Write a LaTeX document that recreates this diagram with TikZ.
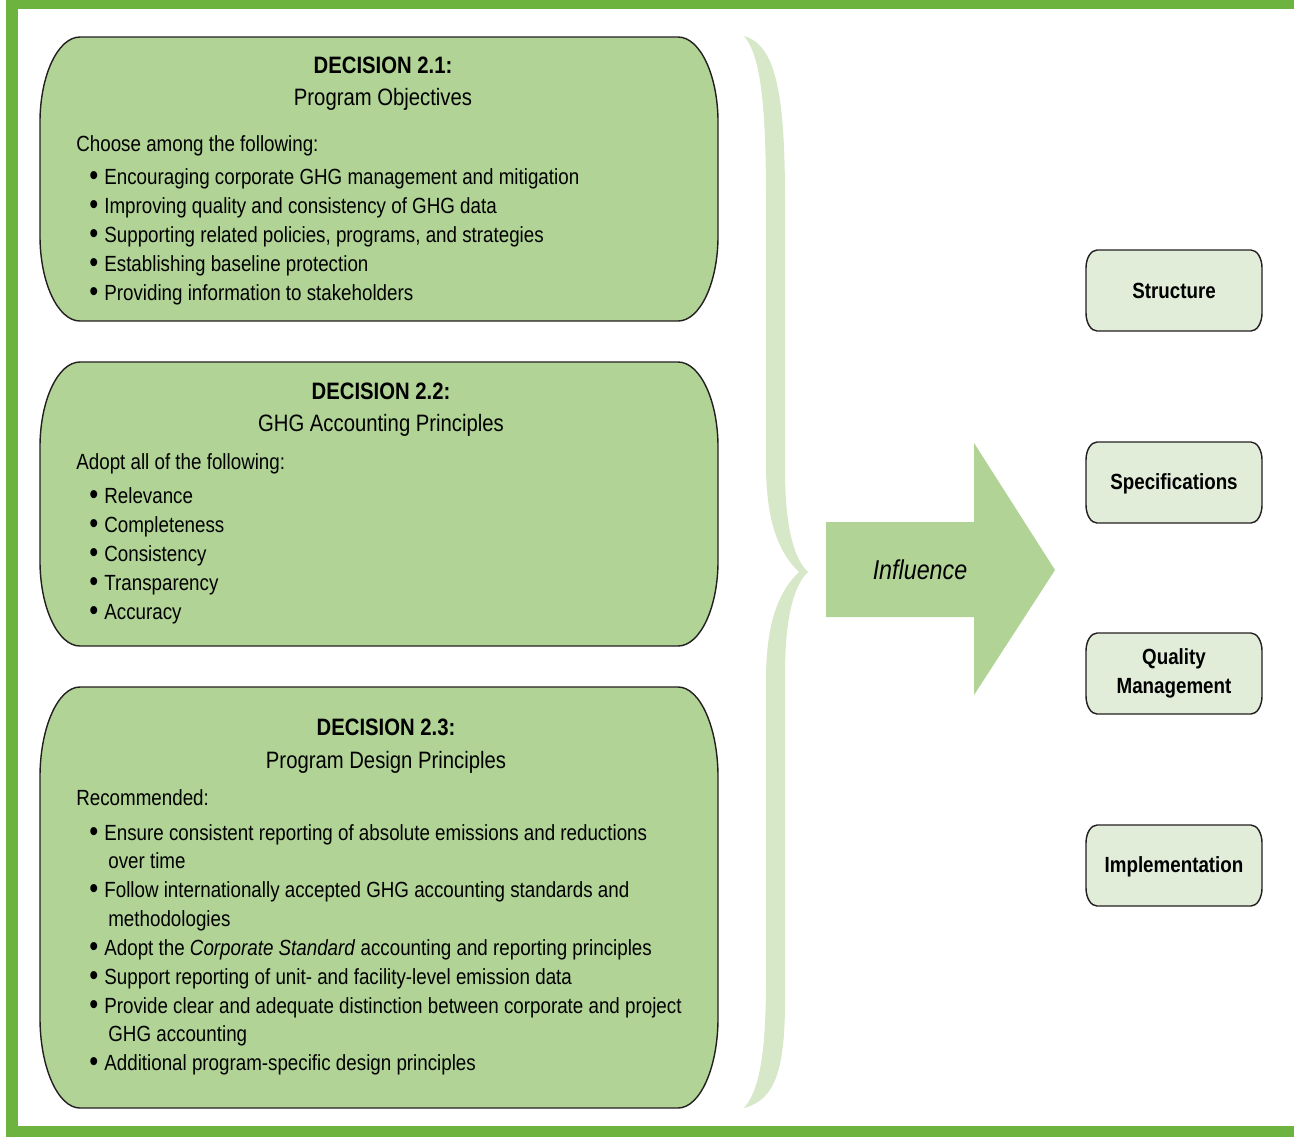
\documentclass[tikz,border=0pt]{standalone}
\usepackage{fontspec}
\setmainfont{Liberation Sans}[FakeStretch=0.855]
\definecolor{frame-green}{HTML}{6DB33F}
\definecolor{box-green}{HTML}{B1D396}
\definecolor{brace-green}{HTML}{D6E8C8}
\definecolor{pale-green}{HTML}{E2EDD9}
\definecolor{ink}{HTML}{231F20}

% box with oval corners: style, x0, y0, x1, y1, rx, ry
\newcommand{\softbox}[7]{%
  \draw[#1] ({#2+#6},#3) -- ({#4-#6},#3)
    .. controls ({#4-0.45*#6},#3) and (#4,{#3+0.45*#7}) .. (#4,{#3+#7})
    -- (#4,{#5-#7})
    .. controls (#4,{#5-0.45*#7}) and ({#4-0.45*#6},#5) .. ({#4-#6},#5)
    -- ({#2+#6},#5)
    .. controls ({#2+0.45*#6},#5) and (#2,{#5-0.45*#7}) .. (#2,{#5-#7})
    -- (#2,{#3+#7})
    .. controls (#2,{#3+0.45*#7}) and ({#2+0.45*#6},#3) .. ({#2+#6},#3) -- cycle;}
\newcommand{\bigdot}{\raisebox{-0.9pt}{\fontsize{17}{17}\selectfont\textbullet}}

\tikzset{
  decision/.style={draw=ink, line width=0.8pt, fill=box-green},
  aspect/.style={draw=ink, line width=0.8pt, fill=pale-green},
  dechead/.style={anchor=base, inner sep=0pt, font=\fontsize{13.5}{16}\selectfont\bfseries},
  decsub/.style={anchor=base, inner sep=0pt, font=\fontsize{13.5}{16}\selectfont},
  lead/.style={anchor=base west, inner sep=0pt, font=\fontsize{12.5}{15}\selectfont},
  bul/.style={lead, execute at begin node={\llap{\bigdot\hspace{3.5pt}}}},
  asplabel/.style={align=center, inner sep=0pt, font=\fontsize{12.5}{16.5}\selectfont\bfseries},
}

\begin{document}
\begin{tikzpicture}[x=0.02cm, y=-0.02cm]
    \useasboundingbox (0,0) rectangle (1294,1137);
    % ---- frame
    \fill[frame-green] (6,0) rectangle (18,1137);
    \fill[frame-green] (6,0) rectangle (1294,9);
    \fill[frame-green] (6,1126) rectangle (1294,1137);
    % ---- decision boxes
    \softbox{decision}{40}{37}{718}{321}{40}{85}
    \softbox{decision}{40}{362}{718}{646}{40}{85}
    \softbox{decision}{40}{687}{718}{1108}{40}{90}
    % ---- Decision 2.1
    \node[dechead] (d1-head) at (383,73) {DECISION 2.1:};
    \node[decsub]  (d1-sub)  at (383,105) {Program Objectives};
    \node[lead] (d1-lead) at (76,151) {Choose among the following:};
    \node[bul] (d1-a) at (104,184) {Encouraging corporate GHG management and mitigation};
    \node[bul] (d1-b) at (104,213) {Improving quality and consistency of GHG data};
    \node[bul] (d1-c) at (104,242) {Supporting related policies, programs, and strategies};
    \node[bul] (d1-d) at (104,271) {Establishing baseline protection};
    \node[bul] (d1-e) at (104,300) {Providing information to stakeholders};
    % ---- Decision 2.2
    \node[dechead] (d2-head) at (381,399) {DECISION 2.2:};
    \node[decsub]  (d2-sub)  at (381,431) {GHG Accounting Principles};
    \node[lead] (d2-lead) at (76,469) {Adopt all of the following:};
    \node[bul] (d2-a) at (104,503) {Relevance};
    \node[bul] (d2-b) at (104,532) {Completeness};
    \node[bul] (d2-c) at (104,561) {Consistency};
    \node[bul] (d2-d) at (104,590) {Transparency};
    \node[bul] (d2-e) at (104,619) {Accuracy};
    % ---- Decision 2.3
    \node[dechead] (d3-head) at (386,735) {DECISION 2.3:};
    \node[decsub]  (d3-sub)  at (386,768) {Program Design Principles};
    \node[lead] (d3-lead) at (76,805) {Recommended:};
    \node[bul]  (d3-a)  at (104,840) {Ensure consistent reporting of absolute emissions and reductions};
    \node[lead] (d3-a2) at (108,868) {over time};
    \node[bul]  (d3-b)  at (104,897) {Follow internationally accepted GHG accounting standards and};
    \node[lead] (d3-b2) at (108,926) {methodologies};
    \node[bul]  (d3-c)  at (104,955) {Adopt the \textit{Corporate Standard} accounting and reporting principles};
    \node[bul]  (d3-d)  at (104,984) {Support reporting of unit- and facility-level emission data};
    \node[bul]  (d3-e)  at (104,1013) {Provide clear and adequate distinction between corporate and project};
    \node[lead] (d3-e2) at (108,1041) {GHG accounting};
    \node[bul]  (d3-f)  at (104,1070) {Additional program-specific design principles};
    % ---- brace
    \fill[brace-green] (744,36) .. controls (775,45) and (785,90) .. (785,200)
      -- (785,470) .. controls (785,530) and (795,560) .. (808,572)
      .. controls (795,584) and (785,614) .. (785,674)
      -- (785,1000) .. controls (785,1070) and (775,1100) .. (744,1108)
      .. controls (760,1090) and (766,1050) .. (766,980)
      -- (766,680) .. controls (766,620) and (780,590) .. (799,572)
      .. controls (780,554) and (766,524) .. (766,464)
      -- (766,200) .. controls (766,100) and (760,55) .. (744,36) -- cycle;
    % ---- arrow
    \fill[box-green] (826,522) -- (974,522) -- (974,443) -- (1055,570)
      -- (974,695) -- (974,617) -- (826,617) -- cycle;
    \node[font=\fontsize{15.5}{18}\selectfont\itshape] (influence) at (920,570) {Influence};
    % ---- program aspects
    \softbox{aspect}{1086}{250}{1262}{331}{11}{18}
    \softbox{aspect}{1086}{442}{1262}{523}{11}{18}
    \softbox{aspect}{1086}{633}{1262}{714}{11}{18}
    \softbox{aspect}{1086}{825}{1262}{906}{11}{18}
    \node[asplabel] (structure) at (1174,291) {Structure};
    \node[asplabel] (specs)     at (1174,484) {Specifications};
    \node[asplabel] (quality)   at (1174,673) {Quality\\Management};
    \node[asplabel] (implement) at (1174,867) {Implementation};
\end{tikzpicture}
\end{document}
